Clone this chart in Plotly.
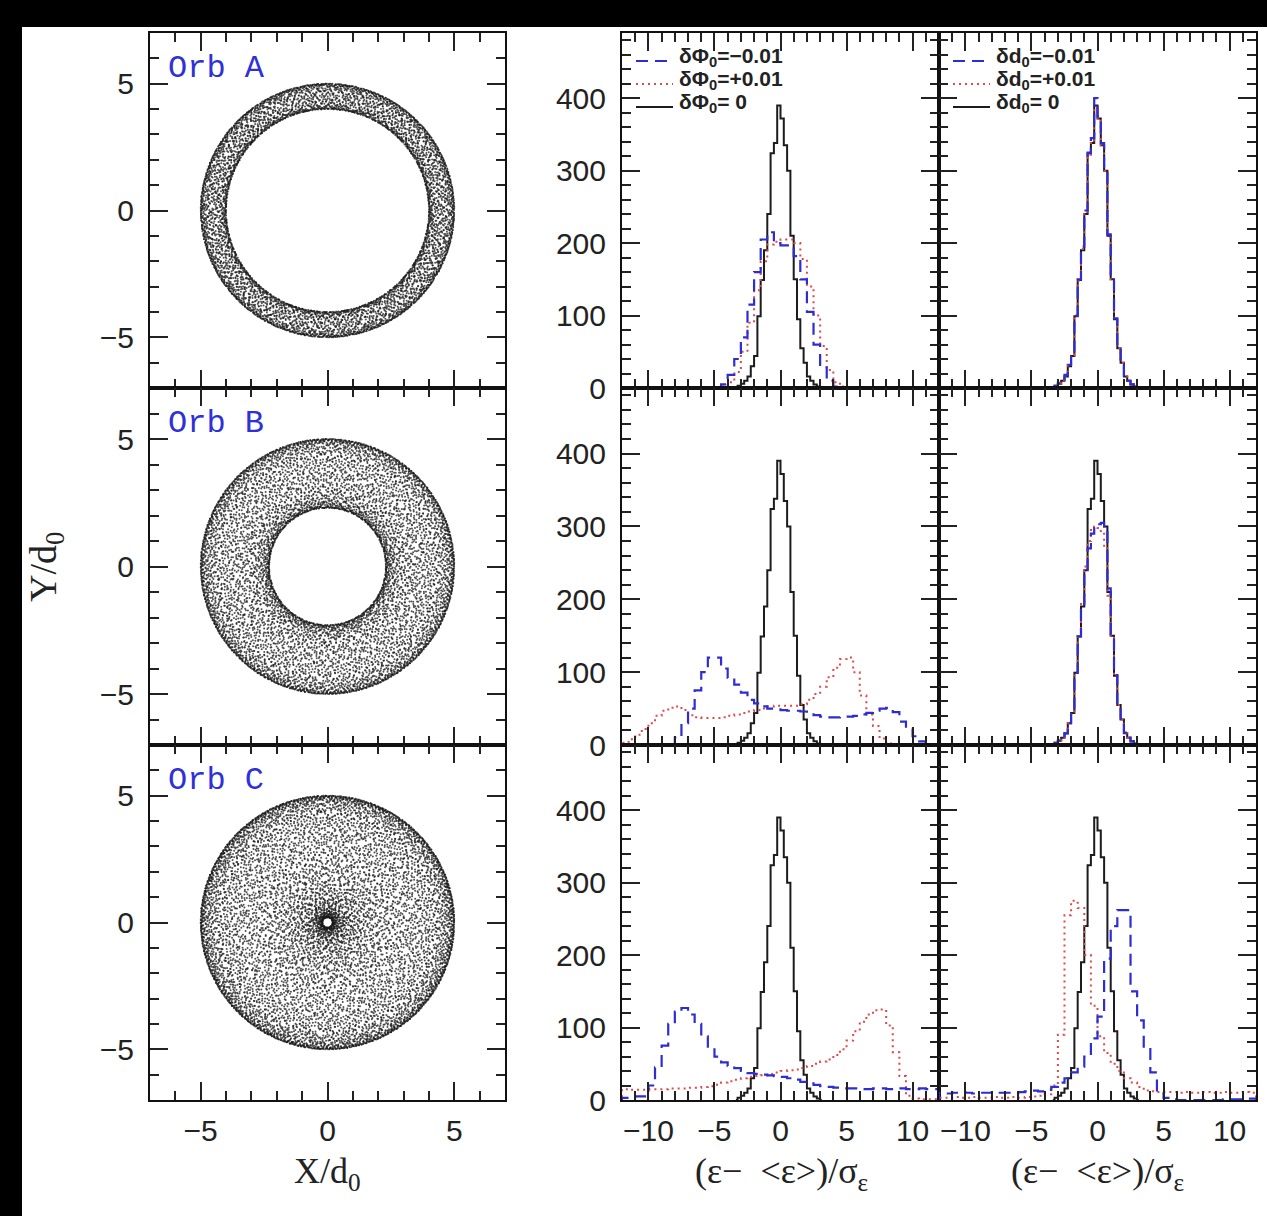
import math
import numpy as np
import plotly.graph_objects as go
from plotly.subplots import make_subplots

FIG_W, FIG_H = 1267, 1216

# ---------------------------------------------------------------- orbit data
ORBIT_NAMES = ["Orb A", "Orb B", "Orb C"]
PERICENTRES = [4.0, 2.3, 0.2]      # d0
APOCENTRES = [5.0, 5.0, 5.0]       # d0
N_POINTS = [6000, 8000, 9000]      # recorded positions per orbit

# ------------------------------------------------------------ histogram data
# counts per bin of (eps - <eps>)/sigma_eps ; series = first bin edge, bin width, counts
REF_START, REF_BIN = -3.25, 0.25   # unperturbed run, shown in every panel
REF_COUNTS = [3, 6, 10, 16, 30, 44, 99, 149, 190, 240, 324, 338, 390,
              372, 335, 300, 210, 150, 95, 55, 35, 16, 10, 5, 2]

A_PHI_M_START, A_PHI_M_BIN = -4.5, 0.5
A_PHI_M = [5, 18, 40, 70, 115, 160, 205, 215, 200, 197, 197, 182, 150, 105, 60, 28, 10, 2]
A_PHI_P_START, A_PHI_P_BIN = -4.5, 0.5
A_PHI_P = [2, 8, 22, 50, 90, 135, 175, 198, 202, 205, 205, 200, 178, 140, 100, 58, 25, 8, 2]
A_D_M_START, A_D_M_BIN = -3.25, 0.25
A_D_M = [3, 7, 12, 18, 32, 48, 100, 150, 195, 245, 325, 345, 400,
         375, 338, 302, 212, 152, 96, 56, 36, 17, 10, 5, 2]
A_D_P_START, A_D_P_BIN = -3.25, 0.25
A_D_P = [3, 6, 11, 17, 31, 45, 98, 148, 192, 242, 322, 340, 388,
         370, 335, 300, 208, 150, 95, 55, 35, 16, 10, 5, 2]

B_PHI_M_START, B_PHI_M_BIN = -8.0, 0.5
B_PHI_M = [10, 30, 50, 75, 100, 120, 120, 105, 92, 83,
           72, 62, 57, 53, 50, 49, 48, 47, 47, 46,
           44, 41, 39, 38, 38, 39, 39, 40, 42, 44,
           47, 50, 51, 45, 32, 22, 12, 5, 1]
B_PHI_P_START, B_PHI_P_BIN = -12.0, 0.5
B_PHI_P = [3, 8, 14, 22, 30, 40, 47, 51, 53, 48,
           41, 38, 37, 37, 37, 38, 40, 42, 44, 46,
           48, 50, 53, 54, 54, 54, 54, 56, 62, 70,
           80, 93, 106, 118, 120, 100, 68, 42, 26, 9,
           2]
B_D_M_START, B_D_M_BIN = -3.25, 0.25
B_D_M = [3, 6, 10, 16, 30, 44, 99, 149, 190, 235, 270, 290, 298,
         303, 305, 300, 215, 152, 96, 56, 36, 17, 10, 5, 2]
B_D_P_START, B_D_P_BIN = -3.25, 0.25
B_D_P = [3, 6, 10, 16, 30, 44, 99, 149, 195, 245, 280, 295, 300,
         298, 290, 270, 205, 150, 95, 55, 35, 16, 10, 5, 2]

C_PHI_M_START, C_PHI_M_BIN = -12.0, 0.5
C_PHI_M = [3, 4, 5, 5, 20, 45, 75, 105, 122, 127,
           118, 105, 88, 72, 60, 52, 47, 44, 40, 37,
           36, 35, 34, 33, 32, 30, 28, 25, 23, 21,
           19, 18, 17, 16, 16, 16, 15, 15, 16, 16,
           15, 15, 16, 15, 15, 16, 15, 15]
C_PHI_P_START, C_PHI_P_BIN = -12.0, 0.5
C_PHI_P = [15, 14, 14, 14, 15, 15, 15, 16, 16, 16,
           17, 17, 18, 19, 21, 24, 26, 28, 30, 32,
           33, 34, 36, 38, 40, 41, 42, 44, 47, 50,
           53, 56, 62, 70, 82, 95, 108, 118, 124, 125,
           103, 66, 33, 6, 2, 1, 1, 1]
C_D_M_START, C_D_M_BIN = -12.0, 0.5
C_D_M = [10, 9, 10, 11, 10, 9, 10, 10, 11, 10,
         10, 9, 11, 12, 13, 12, 14, 18, 24, 30,
         38, 46, 60, 85, 115, 195, 240, 262, 262, 150,
         110, 72, 38, 10, 3, 1, 0, 0, 0, 0,
         0, 0, 0, 1, 1, 1, 2, 2]
C_D_P_START, C_D_P_BIN = -12.0, 0.5
C_D_P = [3, 3, 4, 3, 3, 4, 3, 3, 4, 3,
         3, 4, 3, 4, 5, 6, 8, 20, 90, 255,
         275, 265, 200, 130, 88, 65, 50, 40, 30, 24,
         18, 13, 12, 11, 11, 11, 10, 11, 10, 10,
         11, 10, 10, 11, 10, 10, 11, 10]

# (row, col) -> [(start, bin width, counts, kind), ...]
HISTOGRAMS = {
    (1, 2): [(A_PHI_M_START, A_PHI_M_BIN, A_PHI_M, "minus"), (A_PHI_P_START, A_PHI_P_BIN, A_PHI_P, "plus")],
    (1, 3): [(A_D_M_START, A_D_M_BIN, A_D_M, "minus"), (A_D_P_START, A_D_P_BIN, A_D_P, "plus")],
    (2, 2): [(B_PHI_M_START, B_PHI_M_BIN, B_PHI_M, "minus"), (B_PHI_P_START, B_PHI_P_BIN, B_PHI_P, "plus")],
    (2, 3): [(B_D_M_START, B_D_M_BIN, B_D_M, "minus"), (B_D_P_START, B_D_P_BIN, B_D_P, "plus")],
    (3, 2): [(C_PHI_M_START, C_PHI_M_BIN, C_PHI_M, "minus"), (C_PHI_P_START, C_PHI_P_BIN, C_PHI_P, "plus")],
    (3, 3): [(C_D_M_START, C_D_M_BIN, C_D_M, "minus"), (C_D_P_START, C_D_P_BIN, C_D_P, "plus")],
}

LEGEND_PHI = ["δΦ<sub>0</sub>=−0.01", "δΦ<sub>0</sub>=+0.01", "δΦ<sub>0</sub>= 0"]
LEGEND_D = ["δd<sub>0</sub>=−0.01", "δd<sub>0</sub>=+0.01", "δd<sub>0</sub>= 0"]

# ------------------------------------------------------------------- styling
BLUE = "#2d2dd2"
RED = "#e2474b"
BLACK = "#1c1c1c"
STYLE = {
    "minus": dict(color=BLUE, width=2.2, dash="12px,7px"),
    "plus": dict(color=RED, width=2.0, dash="2px,4px"),
    "ref": dict(color=BLACK, width=2.0),
}

# pixel boxes of the panels
COLS_PX = [(150, 505), (622, 939), (939, 1256)]
ROWS_PX = [(33, 388), (388, 745), (745, 1100)]


def px_x(v):
    return v / FIG_W


def px_y(v):
    return 1 - v / FIG_H


# --------------------------------------------------------------- orbit model
CORE = 0.5                       # core radius of the logarithmic potential, d0


def potential(r):
    return 0.5 * math.log(CORE * CORE + r * r)


def radial_period_track(r_peri, r_apo, dt=0.01):
    """Radius along one radial period of the orbit with the given peri/apocentre
    in a cored log potential (leapfrog, equal time steps)."""
    lz = math.sqrt(2 * (potential(r_apo) - potential(r_peri))
                   / (1 / r_peri ** 2 - 1 / r_apo ** 2))
    c2 = CORE * CORE
    h = 0.5 * dt
    x, y, vx, vy = r_apo, 0.0, 0.0, lz / r_apo
    radii = [r_apo]
    was_out = False
    while True:
        f = 1.0 / (c2 + x * x + y * y)
        vx -= h * x * f
        vy -= h * y * f
        x += dt * vx
        y += dt * vy
        f = 1.0 / (c2 + x * x + y * y)
        vx -= h * x * f
        vy -= h * y * f
        if x * vx + y * vy > 0:
            was_out = True
        elif was_out:
            break
        radii.append(math.hypot(x, y))
    return np.array(radii)


def van_der_corput(n, base):
    seq = np.zeros(n)
    idx = np.arange(1, n + 1)
    f = 1.0
    while idx.max() > 0:
        f /= base
        seq += f * (idx % base)
        idx //= base
    return seq


def orbit_positions(r_peri, r_apo, n):
    """Positions recorded along a long orbit: the radius follows the time spent
    at each radial phase, the azimuth is phase-mixed around the centre."""
    track = radial_period_track(r_peri, r_apo)
    phase = van_der_corput(n, 2)
    azim = 2 * np.pi * van_der_corput(n, 3)
    t = np.linspace(0, 1, len(track))
    r = np.interp(phase, t, track)
    return r * np.cos(azim), r * np.sin(azim)


def step_series(start, width, counts):
    n = len(counts)
    centres = [start + width * (i + 0.5) for i in range(-1, n + 1)]
    values = [0] + list(counts) + [0]
    return centres, values


# -------------------------------------------------------------------- figure
fig = make_subplots(rows=3, cols=3)

for r in range(3):
    xs, ys = orbit_positions(PERICENTRES[r], APOCENTRES[r], N_POINTS[r])
    fig.add_trace(go.Scatter(x=xs, y=ys, mode="markers",
                             marker=dict(size=2, color="rgba(25,25,25,0.75)", line=dict(width=0)),
                             showlegend=False, hoverinfo="skip"), row=r + 1, col=1)

for (r, c), series in HISTOGRAMS.items():
    cx, cy = step_series(REF_START, REF_BIN, REF_COUNTS)
    fig.add_trace(go.Scatter(x=cx, y=cy, mode="lines", line_shape="hvh",
                             line=STYLE["ref"], showlegend=False), row=r, col=c)
    for start, width, counts, kind in series[::-1]:
        sx, sy = step_series(start, width, counts)
        fig.add_trace(go.Scatter(x=sx, y=sy, mode="lines", line_shape="hvh",
                                 line=STYLE[kind], showlegend=False), row=r, col=c)

TICK_FONT = dict(family="Liberation Sans, Arial, sans-serif", size=30, color="#222")
MINOR = dict(ticks="inside", ticklen=9, tickwidth=1.5, tickcolor="#222", showgrid=False)
common = dict(showline=True, linecolor="#111", linewidth=2, mirror="allticks",
              ticks="inside", ticklen=18, tickwidth=1.5, tickcolor="#222",
              showgrid=False, zeroline=False, tickfont=TICK_FONT,
              automargin=False)

for r in range(3):
    for c in range(3):
        idx = r * 3 + c + 1
        xname = "xaxis" if idx == 1 else f"xaxis{idx}"
        yname = "yaxis" if idx == 1 else f"yaxis{idx}"
        x0, x1 = COLS_PX[c]
        y0, y1 = ROWS_PX[r]
        if c == 0:
            xa = dict(range=[-7, 7], tick0=0, dtick=5, minor=dict(MINOR, dtick=1, tick0=0))
            ya = dict(range=[-7, 7], tick0=0, dtick=5, minor=dict(MINOR, dtick=1, tick0=0))
        else:
            xa = dict(range=[-12, 12], tick0=0, dtick=5, minor=dict(MINOR, dtick=1, tick0=0))
            ya = dict(range=[0, 490], tick0=0, dtick=100, minor=dict(MINOR, dtick=20, tick0=0))
        fig.layout[xname].update(domain=[px_x(x0), px_x(x1)], showticklabels=(r == 2),
                                 ticklabelstandoff=3, **xa, **common)
        fig.layout[yname].update(domain=[px_y(y1), px_y(y0)], showticklabels=(c != 2),
                                 ticklabelstandoff=8, **ya, **common)

annotations = []
SERIF = "Liberation Serif, Times New Roman, serif"
TITLE_FONT = dict(family=SERIF, size=36, color="#222")
for r, name in enumerate(ORBIT_NAMES):
    annotations.append(dict(x=px_x(166), y=px_y(ROWS_PX[r][0] + 35), xref="paper", yref="paper",
                            text=name, showarrow=False, xanchor="left", yanchor="middle",
                            font=dict(family="Liberation Mono, Courier New, monospace", size=32, color="#3030d8")))

annotations.append(dict(x=px_x(328), y=px_y(1173), xref="paper", yref="paper", text="X/d<sub>0</sub>",
                        showarrow=False, xanchor="center", yanchor="middle", borderpad=0, font=TITLE_FONT))
for cxp in (781, 1097):
    annotations.append(dict(x=px_x(cxp), y=px_y(1173), xref="paper", yref="paper",
                            text="(ε−  <ε>)/σ<sub>ε</sub>", xanchor="center", yanchor="middle",
                            borderpad=0, showarrow=False, font=TITLE_FONT))
annotations.append(dict(x=px_x(46), y=px_y(567), xref="paper", yref="paper", text="Y/d<sub>0</sub>",
                        textangle=-90, showarrow=False, xanchor="center", yanchor="middle",
                        font=dict(TITLE_FONT, size=38)))

shapes = []
LEGEND_ROWS_PX = [59, 82, 105]
for labels, line_x0, text_x in ((LEGEND_PHI, 636, 677), (LEGEND_D, 953, 994)):
    for k, (label, kind) in enumerate(zip(labels, ["minus", "plus", "ref"])):
        yp = LEGEND_ROWS_PX[k]
        annotations.append(dict(x=px_x(text_x), y=px_y(yp - 2), xref="paper", yref="paper",
                                text="<b>" + label + "</b>", showarrow=False, xanchor="left",
                                yanchor="middle",
                                font=dict(family="Liberation Sans, Arial, sans-serif", size=21, color="#222")))
        shapes.append(dict(type="line", xref="paper", yref="paper",
                           x0=px_x(line_x0), x1=px_x(line_x0 + 37), y0=px_y(yp + 2), y1=px_y(yp + 2),
                           line=STYLE[kind]))

# dark frame strips along the top and left edges
shapes.append(dict(type="rect", xref="paper", yref="paper", x0=0, x1=1, y0=px_y(27), y1=1,
                   fillcolor="black", line=dict(width=0), layer="below"))
shapes.append(dict(type="rect", xref="paper", yref="paper", x0=0, x1=px_x(22), y0=0, y1=1,
                   fillcolor="black", line=dict(width=0), layer="below"))

fig.update_layout(width=FIG_W, height=FIG_H, autosize=False,
                  margin=dict(l=0, r=0, t=0, b=0, autoexpand=False),
                  paper_bgcolor="white", plot_bgcolor="white", showlegend=False,
                  annotations=annotations, shapes=shapes)

fig.write_html("out.html")
